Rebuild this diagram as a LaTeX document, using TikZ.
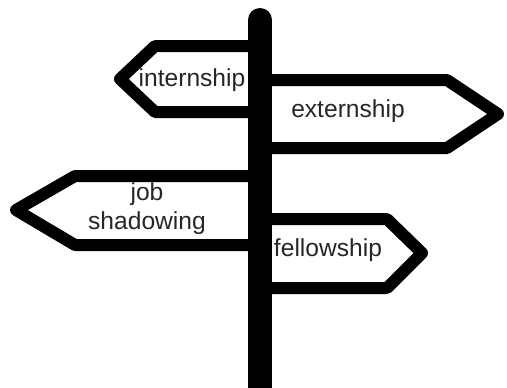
\documentclass[tikz,border=0pt]{standalone}
\usepackage{fontspec}
\setmainfont{Liberation Sans}
\tikzset{
  board/.style={line width=6pt, line join=round},
  post/.style={line width=12pt, line cap=round},
  word/.style={font=\fontsize{12.3}{14.5}\selectfont, text=black!85, align=center, inner sep=0pt}
}
\begin{document}
\begin{tikzpicture}[x=0.5pt,y=-0.5pt]
\useasboundingbox (0,0) rectangle (507,387);
\clip (0,0) rectangle (507,387);
% boards pointing left
\draw[board](248,46)--(155,46)--(120,79)--(155,112)--(248,112);
\draw[board](248,176)--(75,176)--(16,210)--(75,245)--(248,245);
% boards pointing right
\draw[board](272,80)--(447,80)--(498,114)--(447,148)--(272,148);
\draw[board](272,219)--(387,219)--(422,253)--(387,288)--(272,288);
% the post
\draw[post](260,20)--(260,420);
\node[word] (intern) at (192,80) {internship};
\node[word] (extern) at (348,111) {externship};
\node[word] (shadow) at (147,209) {job\\shadowing};
\node[word] (fellow) at (328,250) {fellowship};
\end{tikzpicture}
\end{document}
